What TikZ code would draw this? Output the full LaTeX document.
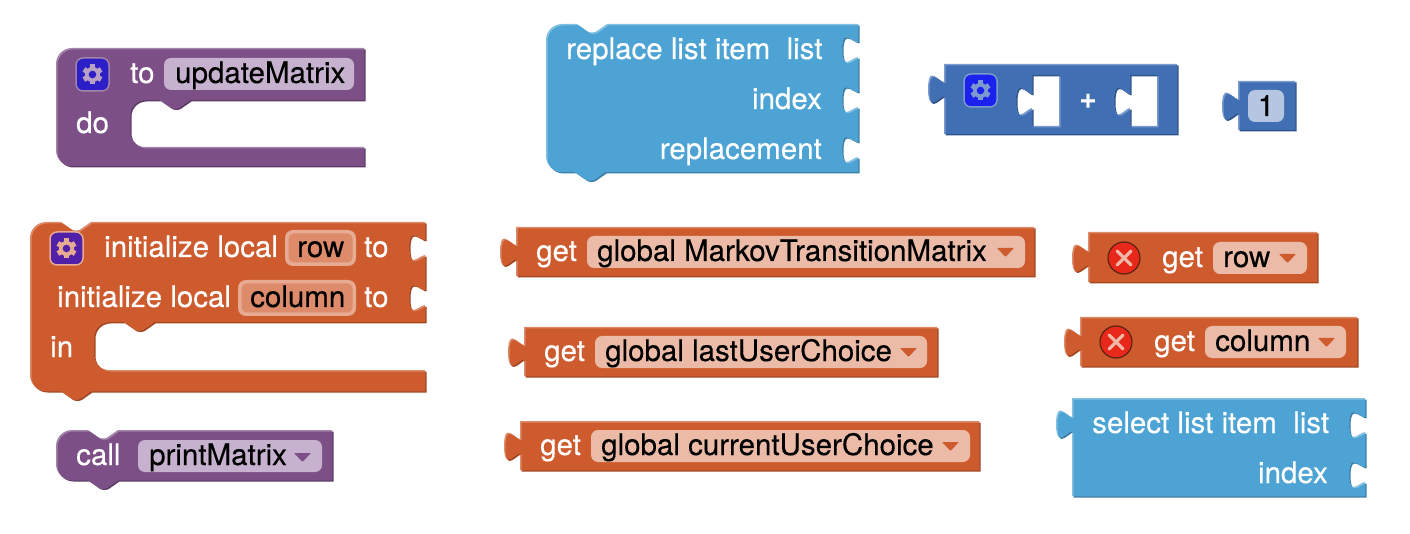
\documentclass[tikz,border=0pt]{standalone}
\usepackage{fontspec}
\setmainfont{TeX Gyre Heros}[FakeBold=0.35]
\definecolor{pM}{HTML}{7C4F86}\definecolor{pL}{HTML}{A283AA}\definecolor{pD}{HTML}{5E3B66}\definecolor{pF}{HTML}{C6B2CE}
\definecolor{oM}{HTML}{CE5B2D}\definecolor{oL}{HTML}{DD8A69}\definecolor{oD}{HTML}{A34620}\definecolor{oF}{HTML}{EBBBA8}
\definecolor{oV}{HTML}{DE8B6C}\definecolor{oB}{HTML}{E7AA92}
\definecolor{lM}{HTML}{4DA4D4}\definecolor{lL}{HTML}{82BFE2}\definecolor{lD}{HTML}{3A7FA8}
\definecolor{bM}{HTML}{406FB4}\definecolor{bL}{HTML}{7B9BCE}\definecolor{bD}{HTML}{2F5288}\definecolor{bF}{HTML}{B4C6E1}
\definecolor{icP}{HTML}{2C1FC8}\definecolor{icB}{HTML}{1C22EE}\definecolor{icO}{HTML}{5020A8}
\definecolor{gP}{HTML}{B7A0C4}
\definecolor{erR}{HTML}{E8281A}\definecolor{erE}{HTML}{5A2412}\definecolor{erX}{HTML}{EFB8A8}
% rounded corner at (#1,#2), from offset (#3,#4) to offset (#5,#6)
\newcommand\rc[6]{-- (#1+#3,#2+#4) .. controls (#1+0.45*#3,#2+0.45*#4) and (#1+0.45*#5,#2+0.45*#6) .. (#1+#5,#2+#6)}
% statement notch, going right / going left from x..x+30
\newcommand\ntR[2]{-- (#1,#2) -- (#1+10,#2+7) .. controls (#1+12,#2+9) and (#1+18,#2+9) .. (#1+20,#2+7) -- (#1+30,#2)}
\newcommand\ntL[2]{-- (#1+30,#2) -- (#1+20,#2+7) .. controls (#1+18,#2+9) and (#1+12,#2+9) .. (#1+10,#2+7) -- (#1,#2)}
% value tab on a left edge, going up
\newcommand\tabU[2]{-- (#1,#2+20) .. controls (#1-3,#2+20) and (#1-8,#2+26.5) .. (#1-12,#2+26.5) .. controls (#1-15,#2+26.5) and (#1-16,#2+20) .. (#1-16,#2+13) .. controls (#1-16,#2+6) and (#1-15,#2-.5) .. (#1-12,#2-.5) .. controls (#1-8,#2-.5) and (#1-3,#2+6) .. (#1,#2+6)}
% value socket on a right edge, going down
\newcommand\sockD[2]{-- (#1,#2+5) .. controls (#1-3,#2+5) and (#1-8,#2) .. (#1-12,#2) .. controls (#1-15,#2) and (#1-16,#2+6) .. (#1-16,#2+12.5) .. controls (#1-16,#2+19) and (#1-15,#2+25) .. (#1-12,#2+25) .. controls (#1-8,#2+25) and (#1-3,#2+20) .. (#1,#2+20)}
\newcommand\bevel[4]{%
  \fill[#3,even odd rule,shift={(1.5,1.5)}] #4;
  \fill[#2,even odd rule] #4;
  \begin{scope}[even odd rule]\clip #4;\fill[#1,shift={(1.5,1.5)}] #4;\end{scope}}
\newcommand\fieldbox[5]{\fill[#5,rounded corners=7pt] (#1,#2) rectangle (#3,#4);}
\newcommand\varbox[6]{\fill[#5,rounded corners=8pt] (#1,#2) rectangle (#3,#4);\fill[#6,rounded corners=5pt] (#1+3.5,#2+3.5) rectangle (#3-3.5,#4-3.5);}
\newcommand\ddtri[3]{\fill[#3,rounded corners=.8pt] (#1,#2) -- (#1+17,#2) -- (#1+8.5,#2+9) -- cycle;}
\newcommand\gearicon[5]{% x y colour border gear
  \fill[#3,draw=#4,line width=1.5pt,rounded corners=7pt] (#1,#2) rectangle (#1+33,#2+33);
  \begin{scope}[shift={(#1+16.5,#2+16.5)}]
    \foreach \a in {0,60,120}{\fill[#5,rotate=\a] (-2.6,-10) rectangle (2.6,10);}
    \fill[#5] (0,0) circle (7.6);
    \fill[#3] (0,0) circle (3.8);
  \end{scope}}
\newcommand\erricon[2]{%
  \fill[erR,draw=erE,line width=1.2pt] (#1,#2) circle (16);
  \draw[erX,line width=3.2pt,line cap=round] (#1-7,#2-7) -- (#1+7,#2+7) (#1-7,#2+7) -- (#1+7,#2-7);}
\tikzset{lab/.style={anchor=base west,inner sep=0pt,text=white,font=\fontsize{29.5}{32}\selectfont},
 labr/.style={lab,anchor=base east},
 fld/.style={lab,text=black}}
\begin{document}
\begin{tikzpicture}[x=1pt,y=-1pt]
\useasboundingbox (0,0) rectangle (1410,534);
% procedure definition
\bevel{pM}{pL}{pD}{(72,48) -- (364,48) -- (364,100) \ntL{160}{100} \rc{130}{100}{15}{0}{0}{15} \rc{130}{147}{0}{-15}{15}{0} -- (364,147) -- (364,166) \rc{56}{166}{16}{0}{0}{-16} \rc{56}{48}{0}{16}{16}{0} -- cycle}
\gearicon{76}{58}{icP}{pL}{gP}
\fieldbox{164}{58}{354}{90}{pF}
\node[lab] (tTo) at (130,83) {to};
\node[fld] (tUpd) at (175,83) {updateMatrix};
\node[lab] (tDo) at (76,133) {do};
% replace list item
\bevel{lM}{lL}{lD}{(562,24) \ntR{577}{24} -- (858,24) \sockD{858}{37} \sockD{858}{87} \sockD{858}{137} -- (858,172) \ntL{575}{172} \rc{546}{172}{16}{0}{0}{-16} \rc{546}{24}{0}{16}{16}{0} -- cycle}
\node[lab] (tRep) at (566,59) {replace list item\ \ list};
\node[labr] (tIdx) at (822,109) {index};
\node[labr] (tRpl) at (822,159) {replacement};
% plus
\bevel{bM}{bL}{bD}{(944,64) -- (1177,64) -- (1177,134) -- (944,134) \tabU{944}{76} -- cycle (1032,75) -- (1059,75) -- (1059,126) -- (1032,126) \tabU{1032}{88} -- cycle (1130,75) -- (1157,75) -- (1157,126) -- (1130,126) \tabU{1130}{88} -- cycle}
\gearicon{964}{74}{icB}{bL}{bL}
\node[lab,anchor=center] (tPlus) at (1088,101) {\bfseries +};
% number
\bevel{bM}{bL}{bD}{(1238,81) -- (1295,81) -- (1295,130) -- (1238,130) \tabU{1238}{93} -- cycle}
\fieldbox{1248}{90}{1284}{122}{bF}
\node[fld,anchor=base] (tOne) at (1266,116) {1};
% initialize local
\bevel{oM}{oL}{oD}{(46,222) \ntR{61}{222} -- (425,222) \sockD{425}{235} \sockD{425}{285} -- (425,322) \ntL{124}{322} \rc{94}{322}{15}{0}{0}{15} \rc{94}{370}{0}{-15}{15}{0} -- (425,370) -- (425,391) \ntL{61}{391} \rc{30}{391}{16}{0}{0}{-16} \rc{30}{222}{0}{16}{16}{0} -- cycle}
\gearicon{50}{232}{icO}{oB}{oB}
\node[lab] (tIni1) at (104,257) {initialize local};
\varbox{285}{230}{356}{266}{oB}{oV}
\node[fld] (tRow) at (297,257) {row};
\node[lab] (tTo1) at (364,257) {to};
\node[lab] (tIni2) at (57,307) {initialize local};
\varbox{238}{280}{356}{316}{oB}{oV}
\node[fld] (tCol) at (250,307) {column};
\node[lab] (tTo2) at (364,307) {to};
\node[lab] (tIn) at (50,357) {in};
% call
\bevel{pM}{pL}{pD}{(72,430) \ntR{88}{430} -- (332,430) -- (332,480) \ntL{88}{480} \rc{56}{480}{16}{0}{0}{-16} \rc{56}{430}{0}{16}{16}{0} -- cycle}
\fieldbox{138}{440}{322}{472}{pF}
\node[lab] (tCall) at (76,465) {call};
\node[fld] (tPrint) at (149,465) {printMatrix};
\ddtri{294}{453}{pM}
% global getters
\bevel{oM}{oL}{oD}{(516,227) -- (1034,227) -- (1034,276) -- (516,276) \tabU{516}{239} -- cycle}
\fieldbox{587}{236}{1025}{268}{oF}
\node[lab] (tG1) at (536,261) {get};
\node[fld] (tMk) at (597,261) {global MarkovTransitionMatrix};
\ddtri{997}{248}{oM}
\bevel{oM}{oL}{oD}{(524,327) -- (937,327) -- (937,376) -- (524,376) \tabU{524}{339} -- cycle}
\fieldbox{595}{336}{927}{368}{oF}
\node[lab] (tG2) at (544,361) {get};
\node[fld] (tLast) at (605,361) {global lastUserChoice};
\ddtri{900}{348}{oM}
\bevel{oM}{oL}{oD}{(520,421) -- (979,421) -- (979,470) -- (520,470) \tabU{520}{433} -- cycle}
\fieldbox{591}{430}{970}{462}{oF}
\node[lab] (tG3) at (540,455) {get};
\node[fld] (tCur) at (601,455) {global currentUserChoice};
\ddtri{942}{442}{oM}
% local getters
\bevel{oM}{oL}{oD}{(1088,232) -- (1317,232) -- (1317,282) -- (1088,282) \tabU{1088}{245} -- cycle}
\erricon{1124}{258}
\node[lab] (tG4) at (1162,267) {get};
\fieldbox{1213}{242}{1307}{274}{oF}
\node[fld] (tR2) at (1223,267) {row};
\ddtri{1279}{254}{oM}
\bevel{oM}{oL}{oD}{(1080,317) -- (1357,317) -- (1357,366) -- (1080,366) \tabU{1080}{329} -- cycle}
\erricon{1116}{342}
\node[lab] (tG5) at (1154,351) {get};
\fieldbox{1205}{326}{1346}{358}{oF}
\node[fld] (tC2) at (1215,351) {column};
\ddtri{1318}{338}{oM}
% select list item
\bevel{lM}{lL}{lD}{(1072,398) -- (1365,398) \sockD{1365}{412} \sockD{1365}{462} -- (1365,496) -- (1072,496) \tabU{1072}{411} -- cycle}
\node[lab] (tSel) at (1092,433) {select list item\ \ list};
\node[labr] (tIdx2) at (1328,483) {index};
\end{tikzpicture}
\end{document}
